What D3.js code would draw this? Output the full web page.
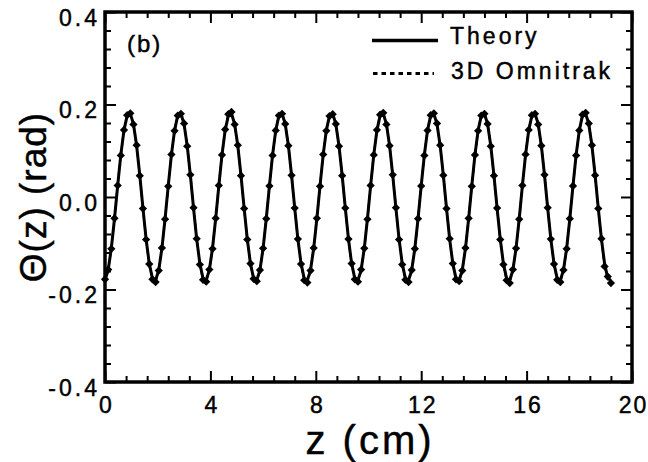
<!DOCTYPE html>
<html>
<head>
<meta charset="utf-8">
<script src="https://cdn.jsdelivr.net/npm/d3@7"></script>
<style>
  html, body { margin: 0; padding: 0; background: #fff; }
  svg { display: block; }
  text { font-family: "Liberation Sans", Arial, Helvetica, sans-serif; fill: #000; }
  .lbl { stroke: #000; stroke-width: 0.45px; }
  .ttl { stroke: #000; stroke-width: 0.45px; }
</style>
</head>
<body>
<svg id="chart" width="648" height="462"></svg>
<script>
// Axial position z (cm) of each sample
const zCm = [
  0.00, 0.12, 0.24, 0.36, 0.48, 0.60, 0.72, 0.84, 0.96, 1.08, 1.20, 1.32, 1.44, 1.56, 1.68, 1.80,
  1.92, 2.04, 2.16, 2.28, 2.40, 2.52, 2.64, 2.76, 2.88, 3.00, 3.12, 3.24, 3.36, 3.48, 3.60, 3.72,
  3.84, 3.96, 4.08, 4.20, 4.32, 4.44, 4.56, 4.68, 4.80, 4.92, 5.04, 5.16, 5.28, 5.40, 5.52, 5.64,
  5.76, 5.88, 6.00, 6.12, 6.24, 6.36, 6.48, 6.60, 6.72, 6.84, 6.96, 7.08, 7.20, 7.32, 7.44, 7.56,
  7.68, 7.80, 7.92, 8.04, 8.16, 8.28, 8.40, 8.52, 8.64, 8.76, 8.88, 9.00, 9.12, 9.24, 9.36, 9.48,
  9.60, 9.72, 9.84, 9.96, 10.08, 10.20, 10.32, 10.44, 10.56, 10.68, 10.80, 10.92, 11.04, 11.16, 11.28, 11.40,
  11.52, 11.64, 11.76, 11.88, 12.00, 12.12, 12.24, 12.36, 12.48, 12.60, 12.72, 12.84, 12.96, 13.08, 13.20, 13.32,
  13.44, 13.56, 13.68, 13.80, 13.92, 14.04, 14.16, 14.28, 14.40, 14.52, 14.64, 14.76, 14.88, 15.00, 15.12, 15.24,
  15.36, 15.48, 15.60, 15.72, 15.84, 15.96, 16.08, 16.20, 16.32, 16.44, 16.56, 16.68, 16.80, 16.92, 17.04, 17.16,
  17.28, 17.40, 17.52, 17.64, 17.76, 17.88, 18.00, 18.12, 18.24, 18.36, 18.48, 18.60, 18.72, 18.84, 18.96, 19.08,
  19.20
];

// Theory: Theta(z) in rad
const thetaTheory = [
  -0.180, -0.158, -0.111, -0.047, 0.024, 0.091, 0.144, 0.176, 0.180, 0.158, 0.111, 0.047, -0.024, -0.091, -0.144, -0.176,
  -0.180, -0.158, -0.111, -0.047, 0.024, 0.091, 0.144, 0.176, 0.180, 0.158, 0.111, 0.047, -0.024, -0.091, -0.144, -0.176,
  -0.180, -0.158, -0.111, -0.047, 0.024, 0.091, 0.144, 0.176, 0.180, 0.158, 0.111, 0.047, -0.024, -0.091, -0.144, -0.176,
  -0.180, -0.158, -0.111, -0.047, 0.024, 0.091, 0.144, 0.176, 0.180, 0.158, 0.111, 0.047, -0.024, -0.091, -0.144, -0.176,
  -0.180, -0.158, -0.111, -0.047, 0.024, 0.091, 0.144, 0.176, 0.180, 0.158, 0.111, 0.047, -0.024, -0.091, -0.144, -0.176,
  -0.180, -0.158, -0.111, -0.047, 0.024, 0.091, 0.144, 0.176, 0.180, 0.158, 0.111, 0.047, -0.024, -0.091, -0.144, -0.176,
  -0.180, -0.158, -0.111, -0.047, 0.024, 0.091, 0.144, 0.176, 0.180, 0.158, 0.111, 0.047, -0.024, -0.091, -0.144, -0.176,
  -0.180, -0.158, -0.111, -0.047, 0.024, 0.091, 0.144, 0.176, 0.180, 0.158, 0.111, 0.047, -0.024, -0.091, -0.144, -0.176,
  -0.180, -0.158, -0.111, -0.047, 0.024, 0.091, 0.144, 0.176, 0.180, 0.158, 0.111, 0.047, -0.024, -0.091, -0.144, -0.176,
  -0.180, -0.158, -0.111, -0.047, 0.024, 0.091, 0.144, 0.176, 0.180, 0.158, 0.111, 0.047, -0.024, -0.091, -0.144, -0.176,
  -0.180
];

// 3D Omnitrak simulation: Theta(z) in rad
const thetaOmnitrak = [
  -0.178, -0.157, -0.112, -0.046, 0.025, 0.090, 0.145, 0.177, 0.181, 0.157, 0.112, 0.046, -0.025, -0.092, -0.145, -0.178,
  -0.184, -0.159, -0.110, -0.048, 0.023, 0.092, 0.143, 0.176, 0.180, 0.159, 0.110, 0.048, -0.023, -0.090, -0.146, -0.179,
  -0.183, -0.157, -0.112, -0.046, 0.025, 0.091, 0.146, 0.179, 0.184, 0.157, 0.112, 0.046, -0.025, -0.092, -0.144, -0.177,
  -0.182, -0.158, -0.111, -0.047, 0.024, 0.090, 0.144, 0.176, 0.180, 0.158, 0.111, 0.047, -0.024, -0.091, -0.145, -0.180,
  -0.185, -0.159, -0.110, -0.046, 0.023, 0.092, 0.143, 0.175, 0.179, 0.158, 0.110, 0.046, -0.024, -0.091, -0.144, -0.178,
  -0.183, -0.157, -0.111, -0.048, 0.025, 0.091, 0.145, 0.178, 0.182, 0.157, 0.111, 0.048, -0.023, -0.092, -0.146, -0.179,
  -0.184, -0.158, -0.112, -0.047, 0.024, 0.090, 0.144, 0.177, 0.181, 0.159, 0.112, 0.047, -0.025, -0.090, -0.144, -0.178,
  -0.182, -0.159, -0.110, -0.046, 0.023, 0.091, 0.143, 0.176, 0.180, 0.158, 0.110, 0.046, -0.024, -0.092, -0.146, -0.180,
  -0.186, -0.157, -0.111, -0.048, 0.025, 0.092, 0.145, 0.177, 0.180, 0.157, 0.111, 0.048, -0.023, -0.091, -0.145, -0.179,
  -0.184, -0.158, -0.112, -0.047, 0.024, 0.090, 0.144, 0.178, 0.182, 0.159, 0.112, 0.047, -0.025, -0.090, -0.150, -0.172,
  -0.186
];

// Tick values
const xMajorTicks = [0, 4, 8, 12, 16, 20];
const xMinorTicks = [0.8, 1.6, 2.4, 3.2, 4.8, 5.6, 6.4, 7.2, 8.8, 9.6, 10.4, 11.2,
                     12.8, 13.6, 14.4, 15.2, 16.8, 17.6, 18.4, 19.2];
const yMajorTicks = [-0.4, -0.2, 0.0, 0.2, 0.4];
const yMinorTicks = [-0.36, -0.32, -0.28, -0.24, -0.16, -0.12, -0.08, -0.04,
                     0.04, 0.08, 0.12, 0.16, 0.24, 0.28, 0.32, 0.36];

const legendLabels = ["Theory", "3D Omnitrak"];

const svg = d3.select("#chart");
const plotLeft = 105, plotRight = 632, plotTop = 12, plotBottom = 382;

const x = d3.scaleLinear().domain([0, 20]).range([plotLeft, plotRight]);
const y = d3.scaleLinear().domain([-0.4, 0.4]).range([plotBottom, plotTop]);

const LS = 3; // letter spacing for the small labels

// --- ticks (all pointing inward) ---
function styleTicks(g) {
  g.select(".domain").remove();
  g.selectAll(".tick line").attr("stroke", "#000").attr("stroke-width", 2);
}

svg.append("g").attr("transform", `translate(0,${plotBottom})`)
  .call(d3.axisBottom(x).tickValues(xMinorTicks).tickSize(-6).tickFormat(""))
  .call(styleTicks);
svg.append("g").attr("transform", `translate(0,${plotTop})`)
  .call(d3.axisTop(x).tickValues(xMinorTicks).tickSize(-6).tickFormat(""))
  .call(styleTicks);
svg.append("g").attr("transform", `translate(${plotLeft},0)`)
  .call(d3.axisLeft(y).tickValues(yMinorTicks).tickSize(-6).tickFormat(""))
  .call(styleTicks);
svg.append("g").attr("transform", `translate(${plotRight},0)`)
  .call(d3.axisRight(y).tickValues(yMinorTicks).tickSize(-6).tickFormat(""))
  .call(styleTicks);

const xAxisMajor = svg.append("g").attr("transform", `translate(0,${plotBottom})`)
  .call(d3.axisBottom(x).tickValues(xMajorTicks).tickSize(-11).tickPadding(0)
        .tickFormat(d3.format("d")))
  .call(styleTicks);
xAxisMajor.selectAll(".tick text")
  .attr("class", "lbl")
  .attr("y", 31).attr("dy", null)
  .attr("dx", 1)
  .style("font-size", "23px").style("letter-spacing", "2px");

svg.append("g").attr("transform", `translate(0,${plotTop})`)
  .call(d3.axisTop(x).tickValues(xMajorTicks).tickSize(-11).tickFormat(""))
  .call(styleTicks);

const yAxisMajor = svg.append("g").attr("transform", `translate(${plotLeft},0)`)
  .call(d3.axisLeft(y).tickValues(yMajorTicks).tickSize(-11)
        .tickFormat(d3.format(".1f")))
  .call(styleTicks);
yAxisMajor.selectAll(".tick text")
  .attr("class", "lbl")
  .text(d => d3.format(".1f")(d).replace("−", "-"))
  .attr("x", -8 + LS).attr("dy", null).attr("y", 13)
  .style("font-size", "23px").style("letter-spacing", LS + "px");

svg.append("g").attr("transform", `translate(${plotRight},0)`)
  .call(d3.axisRight(y).tickValues(yMajorTicks).tickSize(-11).tickFormat(""))
  .call(styleTicks);

// --- frame ---
svg.append("rect")
  .attr("x", plotLeft).attr("y", plotTop)
  .attr("width", plotRight - plotLeft).attr("height", plotBottom - plotTop)
  .attr("fill", "none").attr("stroke", "#000").attr("stroke-width", 3.5);

// --- data ---
const pts = zCm.map((z, i) => ({ z, t: thetaTheory[i], o: thetaOmnitrak[i] }));

const omniLine = d3.line().x(d => x(d.z)).y(d => y(d.o));
svg.append("path").datum(pts)
  .attr("d", omniLine)
  .attr("fill", "none").attr("stroke", "#000").attr("stroke-width", 2)
  .attr("stroke-dasharray", "4,3");

const theoryLine = d3.line().x(d => x(d.z)).y(d => y(d.t));
svg.append("path").datum(pts)
  .attr("d", theoryLine)
  .attr("fill", "none").attr("stroke", "#000").attr("stroke-width", 3)
  .attr("stroke-linejoin", "round");

const marker = d3.symbol().type(d3.symbolSquare).size(34);
svg.append("g").selectAll("path").data(pts).join("path")
  .attr("d", marker)
  .attr("transform", d => `translate(${x(d.z)},${y(d.o)}) rotate(45)`)
  .attr("fill", "#000");

// --- panel tag ---
svg.append("text").attr("class", "lbl").attr("x", 127).attr("y", 52)
  .style("font-size", "24px").style("letter-spacing", "2px")
  .text("(b)");

// --- legend ---
const legend = svg.append("g");
legend.append("line")
  .attr("x1", 372).attr("x2", 438).attr("y1", 40.5).attr("y2", 40.5)
  .attr("stroke", "#000").attr("stroke-width", 3.5);
legend.append("line")
  .attr("x1", 373).attr("x2", 434).attr("y1", 73.5).attr("y2", 73.5)
  .attr("stroke", "#000").attr("stroke-width", 3).attr("stroke-dasharray", "4.5,4");
legend.append("text").attr("class", "lbl").attr("x", 450).attr("y", 43.5)
  .style("font-size", "23px").style("letter-spacing", LS + "px")
  .text(legendLabels[0]);
legend.append("text").attr("class", "lbl").attr("x", 451).attr("y", 78.5)
  .style("font-size", "23px").style("letter-spacing", LS + "px")
  .text(legendLabels[1]);

// --- axis titles ---
svg.append("text").attr("class", "ttl")
  .attr("x", (plotLeft + plotRight) / 2 + 1.5).attr("y", 454)
  .attr("text-anchor", "middle")
  .style("font-size", "40px").style("letter-spacing", "3px")
  .text("z (cm)");

svg.append("text").attr("class", "ttl")
  .attr("transform", `translate(46,${(plotTop + plotBottom) / 2}) rotate(-90)`)
  .attr("text-anchor", "middle")
  .style("font-size", "37px").style("letter-spacing", "1px")
  .text("Θ(z) (rad)");
</script>
</body>
</html>
